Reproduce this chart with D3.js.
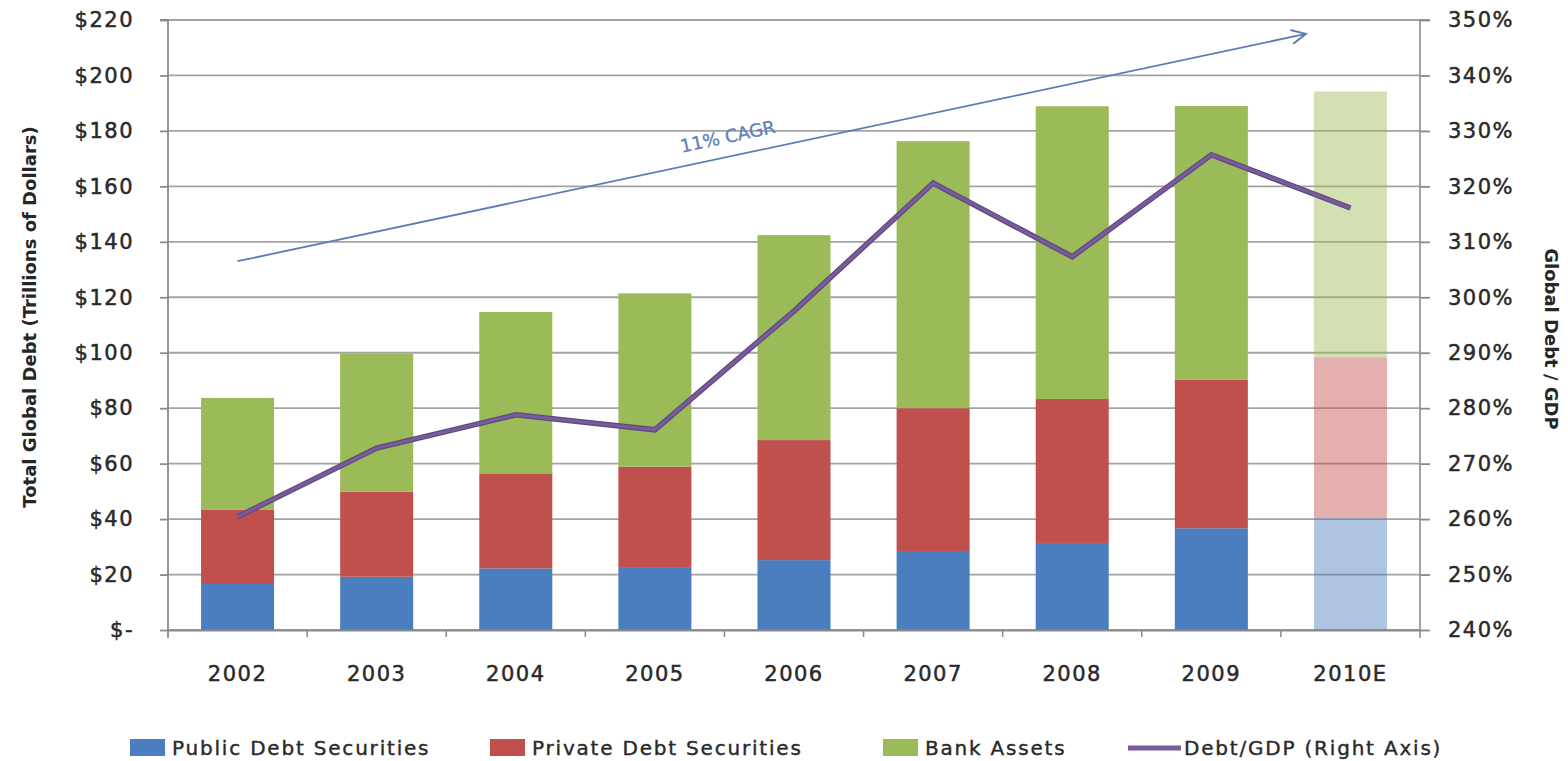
<!DOCTYPE html>
<html>
<head>
<meta charset="utf-8">
<script src="https://cdn.jsdelivr.net/npm/d3@7"></script>
<style>
  html, body { margin: 0; padding: 0; background: #fff; }
  svg { display: block; }
  text { font-family: "DejaVu Sans", sans-serif; fill: #2a2a2a; }
</style>
</head>
<body>
<svg id="chart" width="1568" height="761"></svg>
<script>
// Years on the category axis; the last one is an estimate
const categories = ["2002", "2003", "2004", "2005", "2006", "2007", "2008", "2009", "2010E"];
const estimateCategory = "2010E";

// Stacked components, trillions of dollars
const publicDebt  = [16.6, 19.2, 22.2, 22.4, 25.2, 28.5, 31.4, 36.7, 40.3];
const privateDebt = [26.7, 30.7, 34.3, 36.5, 43.3, 51.5, 51.9, 53.5, 58.1];
const bankAssets  = [40.4, 49.8, 58.2, 62.5, 73.9, 96.3, 105.6, 98.8, 95.8];

// Debt / GDP ratio, percent (right axis)
const debtToGdp = [260.4, 272.8, 278.8, 276.1, 297.5, 320.6, 307.3, 325.7, 316.1];

// Axis ticks
const leftTicks  = [0, 20, 40, 60, 80, 100, 120, 140, 160, 180, 200, 220];
const rightTicks = [240, 250, 260, 270, 280, 290, 300, 310, 320, 330, 340, 350];

// Series names, in stacking order
const seriesNames = ["Public Debt Securities", "Private Debt Securities", "Bank Assets"];
const lineName = "Debt/GDP (Right Axis)";

// Trend arrow annotation (category, fraction of a step past its centre, value in $T)
const trendStart = { cat: "2002", shift: 0, value: 133 };
const trendEnd   = { cat: "2009", shift: 0.68, value: 215 };
const trendLabel = "11% CAGR";

const colors = ["#4a7ebf", "#c0504d", "#9bbb59"];
const lineColor = "#7a5c9e";
const gridColor = "#a3a3a3";

const svg = d3.select("#chart");
const plot = { left: 168, right: 1420, top: 20, bottom: 630 };

const x = d3.scaleBand()
  .domain(categories)
  .range([plot.left, plot.right])
  .paddingInner(0.475)
  .paddingOuter(0.2375);

const yL = d3.scaleLinear().domain([0, 220]).range([plot.bottom, plot.top]);
const yR = d3.scaleLinear().domain([240, 350]).range([plot.bottom, plot.top]);

// Shared label look: regular face thickened slightly, a little widely spaced
const styleLabel = sel => sel
  .attr("font-size", 21)
  .attr("font-weight", "normal")
  .style("font-family", "'DejaVu Sans', sans-serif")
  .style("letter-spacing", "1.5px")
  .attr("fill", "#2a2a2a")
  .attr("stroke", "#2a2a2a")
  .attr("stroke-width", 0.5);

// Gridlines
svg.append("g")
  .selectAll("line")
  .data(leftTicks)
  .join("line")
  .attr("x1", plot.left).attr("x2", plot.right)
  .attr("y1", d => yL(d)).attr("y2", d => yL(d))
  .attr("stroke", gridColor).attr("stroke-width", 1.8);

// Stacked bars
const rows = categories.map((c, i) => ({
  cat: c,
  [seriesNames[0]]: publicDebt[i],
  [seriesNames[1]]: privateDebt[i],
  [seriesNames[2]]: bankAssets[i]
}));
const stacked = d3.stack().keys(seriesNames)(rows);

svg.append("g")
  .selectAll("g")
  .data(stacked)
  .join("g")
  .attr("fill", (d, i) => colors[i])
  .selectAll("rect")
  .data(d => d)
  .join("rect")
  .attr("x", d => x(d.data.cat))
  .attr("width", x.bandwidth())
  .attr("y", d => yL(d[1]))
  .attr("height", d => yL(d[0]) - yL(d[1]))
  .attr("fill-opacity", d => d.data.cat === estimateCategory ? 0.45 : 1);

// Left axis
const leftAxis = d3.axisLeft(yL)
  .tickValues(leftTicks)
  .tickSize(8)
  .tickPadding(26)
  .tickFormat(d => d === 0 ? "$-" : "$" + d);
const gL = svg.append("g").attr("transform", `translate(${plot.left},0)`).call(leftAxis);
gL.select(".domain").attr("stroke", "#8a8a8a").attr("stroke-width", 1.8).attr("d", `M-8,${plot.top}H0V${plot.bottom + 8}`);
gL.selectAll(".tick line").attr("stroke", "#8a8a8a").attr("stroke-width", 1.8);
gL.selectAll(".tick text").call(styleLabel);

// Right axis
const rightAxis = d3.axisRight(yR)
  .tickValues(rightTicks)
  .tickSize(10)
  .tickPadding(18)
  .tickFormat(d => d + "%");
const gR = svg.append("g").attr("transform", `translate(${plot.right},0)`).call(rightAxis);
gR.select(".domain").attr("stroke", "#9a9a9a").attr("stroke-width", 1.8).attr("d", `M10,${plot.top}H0V${plot.bottom + 8}`);
gR.selectAll(".tick line").attr("stroke", "#8a8a8a").attr("stroke-width", 1.8);
gR.selectAll(".tick text").call(styleLabel);

// Category axis
const bottomAxis = d3.axisBottom(x).tickSize(0).tickPadding(36);
const gB = svg.append("g").attr("transform", `translate(0,${plot.bottom})`).call(bottomAxis);
gB.select(".domain").attr("stroke", "#8a8a8a").attr("stroke-width", 1.8);
gB.selectAll(".tick text").call(styleLabel);
// Small ticks between categories
svg.append("g")
  .selectAll("line")
  .data(categories.slice(1))
  .join("line")
  .attr("x1", d => x(d) - x.step() * x.paddingInner() / 2)
  .attr("x2", d => x(d) - x.step() * x.paddingInner() / 2)
  .attr("y1", plot.bottom).attr("y2", plot.bottom + 7)
  .attr("stroke", "#8a8a8a").attr("stroke-width", 1.5);

// Debt / GDP line
const line = d3.line()
  .x((d, i) => x(categories[i]) + x.bandwidth() / 2)
  .y(d => yR(d));
svg.append("path")
  .datum(debtToGdp)
  .attr("d", line)
  .attr("fill", "none")
  .attr("stroke", "#5e4a7e")
  .attr("stroke-width", 5.5)
  .attr("stroke-linejoin", "miter");
svg.append("path")
  .datum(debtToGdp)
  .attr("d", line)
  .attr("fill", "none")
  .attr("stroke", lineColor)
  .attr("stroke-width", 3)
  .attr("stroke-linejoin", "miter");

// Trend arrow with label
const px = p => x(p.cat) + x.bandwidth() / 2 + p.shift * x.step();
const ax1 = px(trendStart), ay1 = yL(trendStart.value);
const ax2 = px(trendEnd), ay2 = yL(trendEnd.value);
const arrowColor = "#5b7db3";
svg.append("line")
  .attr("x1", ax1).attr("y1", ay1).attr("x2", ax2).attr("y2", ay2)
  .attr("stroke", arrowColor).attr("stroke-width", 1.8);
const ang = Math.atan2(ay2 - ay1, ax2 - ax1);
const head = 16, spread = 0.45;
svg.append("path")
  .attr("d", `M${ax2 - head * Math.cos(ang - spread)},${ay2 - head * Math.sin(ang - spread)}L${ax2},${ay2}L${ax2 - head * Math.cos(ang + spread)},${ay2 - head * Math.sin(ang + spread)}`)
  .attr("fill", "none").attr("stroke", arrowColor).attr("stroke-width", 2);

const t = 0.46;
const lx = ax1 + (ax2 - ax1) * t, ly = ay1 + (ay2 - ay1) * t - 14;
svg.append("text")
  .attr("transform", `translate(${lx},${ly}) rotate(${ang * 180 / Math.PI})`)
  .attr("text-anchor", "middle")
  .attr("font-size", 18)
  .style("fill", "#5f80b8")
  .attr("stroke", "#5f80b8").attr("stroke-width", 0.3)
  .text(trendLabel);

// Axis titles
svg.append("text")
  .attr("transform", `translate(36,${(plot.top + plot.bottom) / 2 - 8}) rotate(-90)`)
  .attr("text-anchor", "middle")
  .attr("font-size", 18).attr("font-weight", "bold")
  .style("fill", "#262626")
  .text("Total Global Debt (Trillions of Dollars)");
svg.append("text")
  .attr("transform", `translate(1545,${(plot.top + plot.bottom) / 2 + 14}) rotate(90)`)
  .attr("text-anchor", "middle")
  .attr("font-size", 18).attr("font-weight", "bold")
  .style("fill", "#262626")
  .text("Global Debt / GDP");

// Legend
const legendY = 748;
const legendItems = [
  { name: seriesNames[0], color: colors[0], x: 130, type: "rect" },
  { name: seriesNames[1], color: colors[1], x: 490, type: "rect" },
  { name: seriesNames[2], color: colors[2], x: 883, type: "rect" },
  { name: lineName, color: lineColor, x: 1128, type: "line" }
];
const lg = svg.append("g");
legendItems.forEach(it => {
  if (it.type === "rect") {
    lg.append("rect").attr("x", it.x).attr("y", legendY - 9).attr("width", 35).attr("height", 17).attr("fill", it.color);
  } else {
    lg.append("line").attr("x1", it.x).attr("x2", it.x + 53).attr("y1", legendY).attr("y2", legendY)
      .attr("stroke", it.color).attr("stroke-width", 5);
  }
  lg.append("text")
    .attr("x", it.x + (it.type === "rect" ? 42 : 56))
    .attr("y", legendY + 7)
    .attr("font-size", 20)
    .style("fill", "#2a2a2a")
    .style("letter-spacing", "1.8px")
    .attr("stroke", "#2a2a2a").attr("stroke-width", 0.4)
    .text(it.name);
});
</script>
</body>
</html>
